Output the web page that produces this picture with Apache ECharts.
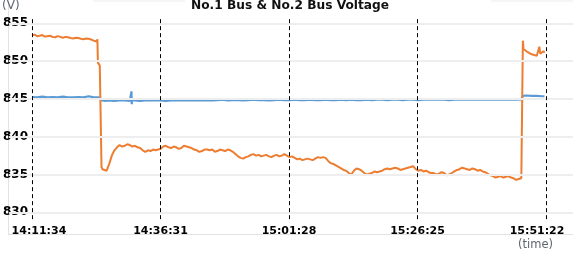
<!DOCTYPE html>
<html><head><meta charset="utf-8">
<script src="https://cdn.jsdelivr.net/npm/echarts@6/dist/echarts.min.js"></script>
<style>html,body{margin:0;padding:0;background:#fff}#c{width:573px;height:254px}</style>
</head><body><div id="c"></div>
<script>
const titleText = 'No.1 Bus & No.2 Bus Voltage';
const tickLabels = ['14:11:34', '14:36:31', '15:01:28', '15:26:25', '15:51:22'];
const yTicks = [830, 835, 840, 845, 850, 855];

// No.2 Bus (orange): [time, volts]
const bus2 = [
  ['14:11:34',853.4],['14:12:04',853.5],['14:12:34',853.3],['14:13:04',853.35],['14:13:34',853.45],['14:14:04',853.25],
  ['14:14:34',853.3],['14:15:04',853.35],['14:15:34',853.2],['14:16:04',853.15],['14:16:34',853.3],['14:17:04',853.2],
  ['14:17:34',853.1],['14:18:04',853.2],['14:18:34',853.15],['14:19:04',853.05],['14:19:34',853.0],['14:20:04',853.1],
  ['14:20:34',853.05],['14:21:04',852.95],['14:21:34',852.9],['14:22:04',853.0],['14:22:34',852.95],['14:23:04',852.85],
  ['14:23:34',852.7],['14:24:10',852.6],['14:24:16',852.9],['14:24:22',849.8],['14:24:34',850.0],['14:24:44',849.4],
  ['14:24:56',849.6],['14:25:04',836.0],['14:25:14',835.7],['14:25:34',835.6],['14:26:04',835.5],['14:26:34',836.4],
  ['14:27:04',837.5],['14:27:34',838.2],['14:28:04',838.6],['14:28:34',838.9],['14:29:04',838.7],['14:29:34',838.8],
  ['14:30:04',839.0],['14:30:34',838.9],['14:31:04',838.7],['14:31:34',838.8],['14:32:04',838.6],['14:32:34',838.5],
  ['14:33:04',838.2],['14:33:34',838.0],['14:34:04',838.2],['14:34:34',838.1],['14:35:04',838.3],['14:35:34',838.2],
  ['14:36:04',838.3],['14:36:34',838.4],['14:37:04',838.7],['14:37:34',838.8],['14:38:04',838.6],['14:38:34',838.5],
  ['14:39:04',838.7],['14:39:34',838.6],['14:40:04',838.4],['14:40:34',838.5],['14:41:04',838.8],['14:41:34',838.7],
  ['14:42:04',838.6],['14:42:34',838.5],['14:43:04',838.3],['14:43:34',838.2],['14:44:04',838.0],['14:44:34',838.1],
  ['14:45:04',838.3],['14:45:34',838.3],['14:46:04',838.2],['14:46:34',838.3],['14:47:04',838.0],['14:47:34',838.1],
  ['14:48:04',838.3],['14:48:34',838.2],['14:49:04',838.1],['14:49:34',838.3],['14:50:04',838.2],['14:50:34',838.0],
  ['14:51:04',837.7],['14:51:34',837.4],['14:52:04',837.2],['14:52:34',837.1],['14:53:04',837.3],['14:53:34',837.4],
  ['14:54:04',837.6],['14:54:34',837.7],['14:55:04',837.5],['14:55:34',837.6],['14:56:04',837.4],['14:56:34',837.5],
  ['14:57:04',837.6],['14:57:34',837.4],['14:58:04',837.3],['14:58:34',837.5],['14:59:04',837.6],['14:59:34',837.4],
  ['15:00:04',837.5],['15:00:34',837.7],['15:01:04',837.5],['15:01:34',837.3],['15:02:04',837.4],['15:02:34',837.2],
  ['15:03:04',837.0],['15:03:34',837.1],['15:04:04',836.9],['15:04:34',837.0],['15:05:04',837.1],['15:05:34',837.0],
  ['15:06:04',836.9],['15:06:34',837.1],['15:07:04',837.3],['15:07:34',837.2],['15:08:04',837.3],['15:08:34',837.2],
  ['15:09:04',836.8],['15:09:34',836.5],['15:10:04',836.4],['15:10:34',836.2],['15:11:04',836.0],['15:11:34',835.8],
  ['15:12:04',835.6],['15:12:34',835.5],['15:13:04',835.2],['15:13:34',835.0],['15:14:04',835.5],['15:14:34',835.8],
  ['15:15:04',835.7],['15:15:34',835.5],['15:16:04',835.2],['15:16:34',835.0],['15:17:04',835.1],['15:17:34',835.2],
  ['15:18:04',835.4],['15:18:34',835.3],['15:19:04',835.4],['15:19:34',835.5],['15:20:04',835.7],['15:20:34',835.8],
  ['15:21:04',835.7],['15:21:34',835.8],['15:22:04',835.9],['15:22:34',835.8],['15:23:04',835.6],['15:23:34',835.7],
  ['15:24:04',835.8],['15:24:34',835.9],['15:25:04',836.0],['15:25:34',836.1],['15:26:04',835.7],['15:26:34',835.5],
  ['15:27:04',835.6],['15:27:34',835.4],['15:28:04',835.5],['15:28:34',835.3],['15:29:04',835.2],['15:29:34',835.2],
  ['15:30:04',835.0],['15:30:34',835.1],['15:31:04',835.3],['15:31:34',835.2],['15:32:04',834.9],['15:32:34',835.0],
  ['15:33:04',835.2],['15:33:34',835.4],['15:34:04',835.6],['15:34:34',835.7],['15:35:04',835.9],['15:35:34',835.8],
  ['15:36:04',835.7],['15:36:34',835.6],['15:37:04',835.8],['15:37:34',835.7],['15:38:04',835.5],['15:38:34',835.6],
  ['15:39:04',835.4],['15:39:34',835.3],['15:40:04',835.1],['15:40:34',834.9],['15:41:04',834.8],['15:41:34',834.6],
  ['15:42:04',834.7],['15:42:34',834.8],['15:43:04',834.6],['15:43:34',834.7],['15:44:04',834.8],['15:44:34',834.6],
  ['15:45:04',834.5],['15:45:34',834.3],['15:46:04',834.4],['15:46:34',834.5],['15:46:48',834.7],['15:46:52',852.7],
  ['15:47:00',851.6],['15:47:34',851.3],['15:48:04',851.1],['15:48:34',850.9],['15:49:04',850.8],['15:49:34',850.7],
  ['15:50:04',851.9],['15:50:14',851.0],['15:50:34',851.2],['15:50:54',851.3],['15:51:04',851.1]
];

// No.1 Bus (blue): [time, volts]
const bus1 = [
  ['14:11:34',845.25],['14:12:34',845.2],['14:13:34',845.3],['14:14:34',845.2],['14:15:34',845.25],['14:16:34',845.2],
  ['14:17:34',845.3],['14:18:34',845.2],['14:19:34',845.2],['14:20:34',845.25],['14:21:34',845.2],['14:22:34',845.35],
  ['14:23:34',845.2],['14:24:34',845.2],['14:24:56',845.1],['14:25:10',844.8],['14:25:34',844.75],['14:26:34',844.8],
  ['14:27:34',844.75],['14:28:34',844.8],['14:29:34',844.8],['14:30:34',844.75],['14:30:50',844.8],['14:30:53',846.0],
  ['14:30:56',844.3],['14:31:00',844.8],['14:31:34',844.8],['14:32:34',844.75],['14:33:34',844.8],['14:34:34',844.85],
  ['14:35:34',844.8],['14:36:34',844.8],['14:37:34',844.75],['14:38:34',844.8],['14:39:34',844.85],['14:40:34',844.8],
  ['14:41:34',844.8],['14:42:34',844.85],['14:43:34',844.8],['14:44:34',844.8],['14:45:34',844.85],['14:46:34',844.8],
  ['14:47:34',844.85],['14:48:34',844.9],['14:49:34',844.8],['14:50:34',844.85],['14:51:34',844.85],['14:52:34',844.8],
  ['14:53:34',844.85],['14:54:34',844.9],['14:55:34',844.85],['14:56:34',844.85],['14:57:34',844.8],['14:58:34',844.85],
  ['14:59:34',844.9],['15:00:34',844.85],['15:01:34',844.85],['15:02:34',844.9],['15:03:34',844.85],['15:04:34',844.85],
  ['15:05:34',844.9],['15:06:34',844.85],['15:07:34',844.85],['15:08:34',844.9],['15:09:34',844.85],['15:10:34',844.85],
  ['15:11:34',844.9],['15:12:34',844.85],['15:13:34',844.9],['15:14:34',844.85],['15:15:34',844.85],['15:16:34',844.9],
  ['15:17:34',844.85],['15:18:34',844.9],['15:19:34',844.9],['15:20:34',844.85],['15:21:34',844.9],['15:22:34',844.9],
  ['15:23:34',844.85],['15:24:34',844.9],['15:25:34',844.9],['15:26:34',844.85],['15:27:34',844.9],['15:28:34',844.9],
  ['15:29:34',844.95],['15:30:34',844.9],['15:31:34',844.9],['15:32:34',844.85],['15:33:34',844.9],['15:34:34',844.95],
  ['15:35:34',844.9],['15:36:34',844.9],['15:37:34',844.95],['15:38:34',844.9],['15:39:34',844.9],['15:40:34',844.95],
  ['15:41:34',844.9],['15:42:34',844.9],['15:43:34',844.95],['15:44:34',844.9],['15:45:34',844.9],['15:46:34',844.95],
  ['15:46:48',844.95],['15:46:52',845.4],['15:47:34',845.45],['15:48:34',845.4],['15:49:34',845.4],['15:50:34',845.35],
  ['15:51:04',845.35]
];

function toSec(s) { const p = s.split(':').map(Number); return p[0] * 3600 + p[1] * 60 + p[2]; }
function pad(n) { return (n < 10 ? '0' : '') + n; }
function fmt(sec) { return Math.floor(sec / 3600) + ':' + pad(Math.floor(sec % 3600 / 60)) + ':' + pad(sec % 60); }

const tickSecs = tickLabels.map(toSec);
const orangeData = bus2.map(d => [toSec(d[0]), d[1]]);
const blueData = bus1.map(d => [toSec(d[0]), d[1]]);

const FONT = 'DejaVu Sans';
const chart = echarts.init(document.getElementById('c'), null, { renderer: 'canvas' });
const labelFont = { fontFamily: FONT, fontWeight: 'bold', fontSize: 11, color: '#000' };

chart.setOption({
  animation: false,
  backgroundColor: '#fff',
  title: {
    text: titleText, left: 191, top: 0, padding: 0,
    textStyle: { fontFamily: FONT, fontWeight: 'bold', fontSize: 12.2, color: '#111' }
  },
  grid: { left: 8, right: 0, top: 1, bottom: 20, containLabel: false },
  xAxis: {
    type: 'value', min: 50827, max: 57396,
    axisLine: { show: false }, axisTick: { show: false }, splitLine: { show: false },
    axisLabel: {
      customValues: tickSecs, margin: -3, verticalAlign: 'middle',
      ...labelFont,
      formatter: function (v) {
        const s = fmt(Math.round(v));
        if (Math.round(v) === tickSecs[0]) return '{f|' + s + '}';
        if (Math.round(v) === tickSecs[tickSecs.length - 1]) return '{l|' + s + '}';
        return s;
      },
      rich: {
        f: { ...labelFont, padding: [0, 0, 0, 14] },
        l: { ...labelFont, padding: [0, 18, 0, 0] }
      }
    }
  },
  yAxis: {
    type: 'value', min: 827.13, max: 857.95,
    axisLine: { show: false }, axisTick: { show: false }, splitLine: { show: false },
    axisLabel: { customValues: yTicks, margin: -19, align: 'right', fontFamily: FONT, fontWeight: 'bold', fontSize: 12, color: '#000' }
  },
  graphic: [
    { type: 'line', shape: { x1: 8.5, y1: 1, x2: 8.5, y2: 234 }, style: { stroke: '#e3e3e3', lineWidth: 1 }, z: 0 },
    { type: 'line', shape: { x1: 8, y1: 234.5, x2: 573, y2: 234.5 }, style: { stroke: '#e3e3e3', lineWidth: 1 }, z: 0 },
    { type: 'line', shape: { x1: 93, y1: 1, x2: 185, y2: 1 }, style: { stroke: '#ececec', lineWidth: 1 }, z: 0 },
    { type: 'line', shape: { x1: 491, y1: 1, x2: 573, y2: 1 }, style: { stroke: '#ececec', lineWidth: 1 }, z: 0 },
    { type: 'text', left: 2, top: 0, style: { text: '(V)', fontFamily: FONT, fontSize: 12, fill: '#5f6670' } },
    { type: 'text', left: 518, top: 239, style: { text: '(time)', fontFamily: FONT, fontSize: 11.5, fill: '#5f6670' } }
  ],
  series: [
    {
      type: 'line', data: [], z: 1, silent: true,
      markLine: {
        silent: true, symbol: 'none', label: { show: false },
        lineStyle: { color: '#eeeeee', width: 2, type: 'solid' },
        data: yTicks.map(v => ({ yAxis: v }))
      }
    },
    {
      type: 'line', data: [], z: 1, silent: true,
      markLine: {
        silent: true, symbol: 'none', label: { show: false },
        lineStyle: { color: '#000', width: 1, type: [4, 3] },
        data: tickSecs.map(t => [{ coord: [t, 855.55] }, { coord: [t, 829.0] }])
      }
    },
    {
      name: 'No.1 Bus', type: 'line', data: blueData, z: 3, showSymbol: false,
      lineStyle: { color: '#5B9BD5', width: 2.2 }, itemStyle: { color: '#5B9BD5' }
    },
    {
      name: 'No.2 Bus', type: 'line', data: orangeData, z: 4, showSymbol: false,
      lineStyle: { color: '#ED7D31', width: 2 }, itemStyle: { color: '#ED7D31' }
    }
  ]
});
</script></body></html>
